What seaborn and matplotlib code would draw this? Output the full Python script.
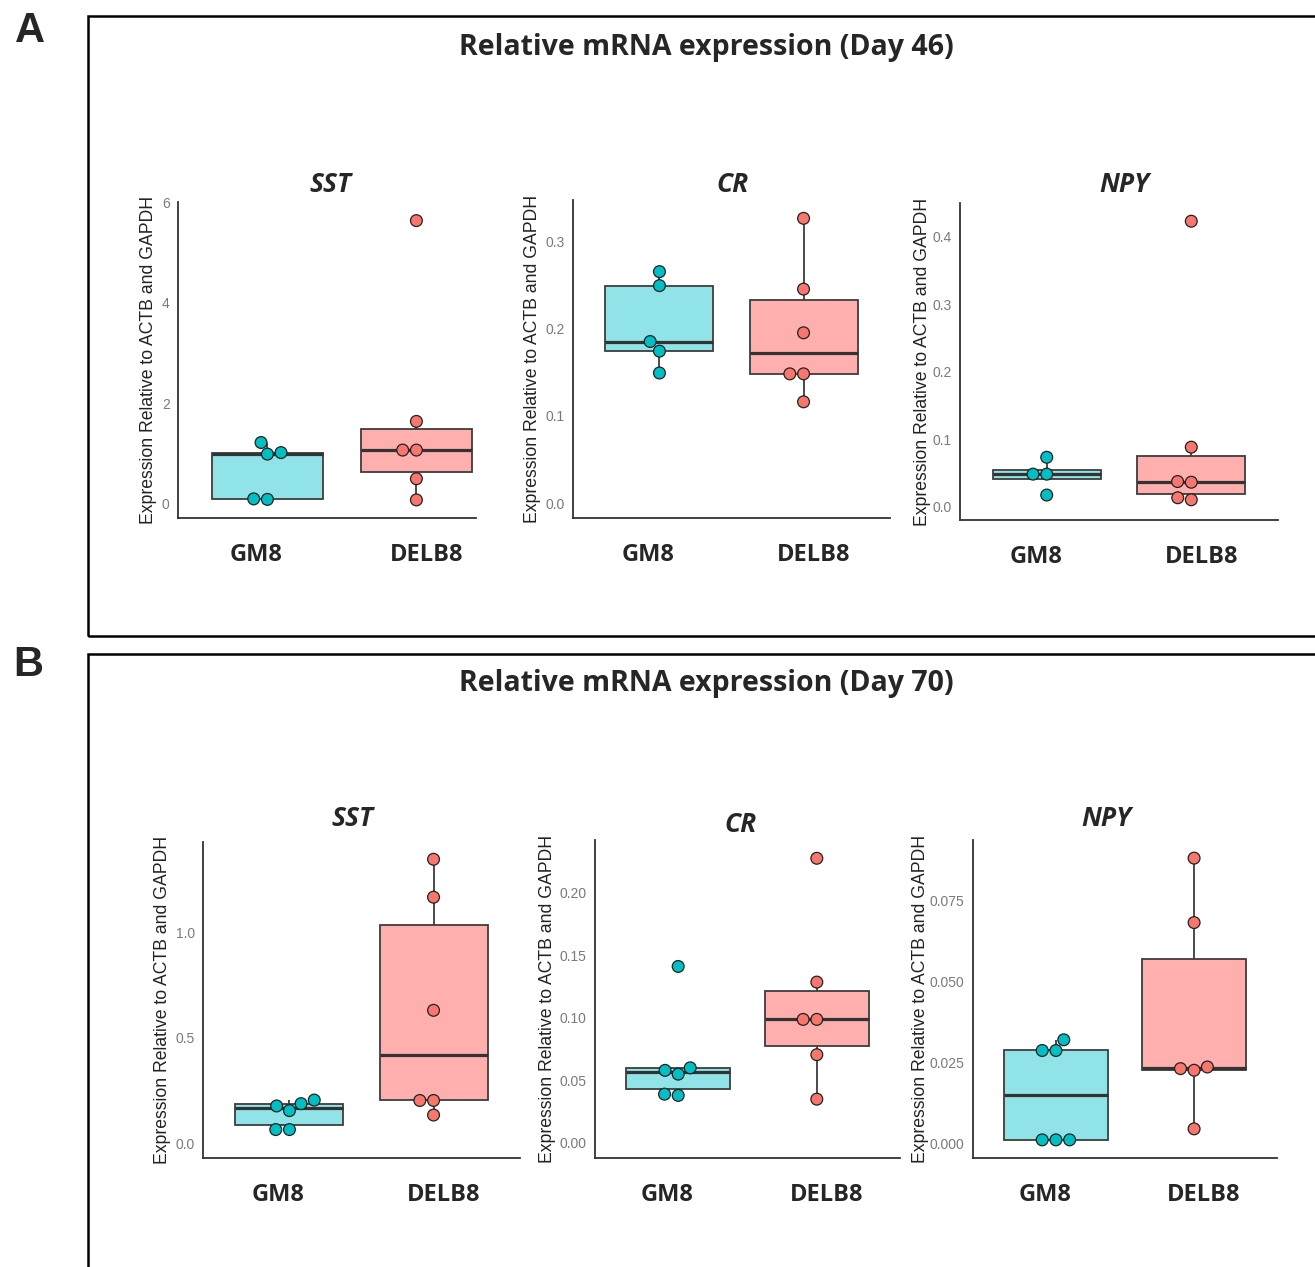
import matplotlib
matplotlib.use("Agg")
import matplotlib.pyplot as plt
import matplotlib.transforms as mtransforms
import seaborn as sns
import numpy as np
import pandas as pd
from matplotlib.patches import Rectangle

# ---- data ----
groups = ["GM8", "DELB8"]
genes = ["SST", "CR", "NPY"]

# Day 46
d46_sst_gm8 = [0.09, 0.10, 0.99, 1.02, 1.22]
d46_sst_delb8 = [0.08, 0.50, 1.07, 1.07, 1.64, 5.63]
d46_cr_gm8 = [0.149, 0.174, 0.185, 0.249, 0.265]
d46_cr_delb8 = [0.116, 0.148, 0.148, 0.195, 0.245, 0.326]
d46_npy_gm8 = [0.017, 0.048, 0.048, 0.073]
d46_npy_delb8 = [0.010, 0.013, 0.036, 0.037, 0.088, 0.423]

# Day 70
d70_sst_gm8 = [0.065, 0.065, 0.155, 0.177, 0.188, 0.205]
d70_sst_delb8 = [0.134, 0.203, 0.203, 0.631, 1.168, 1.348]
d70_cr_gm8 = [0.038, 0.039, 0.055, 0.058, 0.060, 0.141]
d70_cr_delb8 = [0.035, 0.0705, 0.0987, 0.0987, 0.1285, 0.2274]
d70_npy_gm8 = [0.001, 0.001, 0.001, 0.0286, 0.0286, 0.0319]
d70_npy_delb8 = [0.0044, 0.0225, 0.023, 0.0235, 0.0681, 0.088]

# y ticks per panel
ticks_d46 = [[0, 2, 4, 6], [0.0, 0.1, 0.2, 0.3], [0.0, 0.1, 0.2, 0.3, 0.4]]
ticks_d70 = [[0.0, 0.5, 1.0], [0.00, 0.05, 0.10, 0.15, 0.20],
             [0.000, 0.025, 0.050, 0.075]]
decimals_d46 = [0, 1, 1]
decimals_d70 = [1, 2, 3]
ylims_d46 = [(-0.28, 6.0), (-0.017, 0.347), (-0.02, 0.45)]
ylims_d70 = [(-0.07, 1.43), (-0.012, 0.242), (-0.0046, 0.0936)]

titles = ["Relative mRNA expression (Day 46)", "Relative mRNA expression (Day 70)"]
ylabel = "Expression Relative to ACTB and GAPDH"

box_fill = {"GM8": "#90E3E6", "DELB8": "#FEAFAE"}
point_col = {"GM8": "#00BFC4", "DELB8": "#F8766D"}

W, H = 1315, 1267


def fx(x):
    return x / W


def fy(y):
    return 1 - y / H


# axes boxes in pixels: left, right, top, bottom, ylabel x, title x, title y, xmax
layout_a = [(178, 476, 202, 518, 148, 330, 185, 1.40),
            (573, 890, 200, 518, 532, 732, 185, 1.60),
            (960, 1278, 203, 520, 922, 1124, 185, 1.60)]
layout_b = [(203, 520, 842, 1158, 162, 352, 818, 1.60),
            (595, 900, 840, 1158, 547, 740, 825, 1.60),
            (973, 1277, 840, 1158, 920, 1106, 818, 1.60)]

sns.set_style("white")
fig = plt.figure(figsize=(W / 100, H / 100), dpi=100)
fig.patch.set_facecolor("white")


def draw_panel(gm8, delb8, gene, box, ticks, dec, ylim):
    left, right, top, bottom, lab_x, tit_x, tit_y, xmax = box
    ax = fig.add_axes([fx(left), fy(bottom), fx(right - left), (bottom - top) / H])
    df = pd.DataFrame({
        "group": ["GM8"] * len(gm8) + ["DELB8"] * len(delb8),
        "value": gm8 + delb8,
    })
    sns.boxplot(data=df, x="group", y="value", hue="group", order=groups,
                palette=box_fill, saturation=1, width=0.75, showfliers=False,
                showcaps=False, linecolor="#3d3d3d", linewidth=1.3,
                medianprops={"linewidth": 2.3, "color": "#333333"},
                legend=False, ax=ax)
    sns.swarmplot(data=df, x="group", y="value", hue="group", order=groups,
                  palette=point_col, size=8.5, edgecolor="#222222", linewidth=0.9,
                  legend=False, zorder=4, ax=ax)
    ax.set_xlim(-0.6, xmax)
    ax.set_ylim(*ylim)
    ax.set_yticks(ticks)
    ax.set_yticklabels([f"{t:.{dec}f}" for t in ticks], color="#7a7a7a",
                       fontsize=10, family="Liberation Sans")
    ax.set_xticks([0, 1])
    ax.set_xticklabels(groups, fontsize=17, fontweight="bold", family="Open Sans")
    ax.tick_params(axis="x", length=4, width=1, color="#333333", pad=14)
    ax.tick_params(axis="y", length=4, width=1, color="#333333", pad=2)
    # the group names sit a little wider apart than the ticks
    for lab, dx in zip(ax.get_xticklabels(), [-11, 10]):
        lab.set_transform(lab.get_transform() +
                          mtransforms.ScaledTranslation(dx / 100, 0, fig.dpi_scale_trans))
    for s in ["top", "right"]:
        ax.spines[s].set_visible(False)
    for s in ["left", "bottom"]:
        ax.spines[s].set_color("#333333")
        ax.spines[s].set_linewidth(1.3)
    ax.set_xlabel("")
    ax.set_ylabel(ylabel, fontsize=12.7, color="#222222", family="Liberation Sans")
    # label coords give the right edge of the rotated text, so add half its height
    ax.yaxis.set_label_coords((lab_x + 9 - left) / (right - left), 0.5)
    fig.text(fx(tit_x), fy(tit_y), gene, ha="center", va="center",
             fontsize=19, fontweight="bold", fontstyle="italic", family="Open Sans")
    return ax


panels_a = [(d46_sst_gm8, d46_sst_delb8), (d46_cr_gm8, d46_cr_delb8),
            (d46_npy_gm8, d46_npy_delb8)]
panels_b = [(d70_sst_gm8, d70_sst_delb8), (d70_cr_gm8, d70_cr_delb8),
            (d70_npy_gm8, d70_npy_delb8)]

for i, (g, d) in enumerate(panels_a):
    draw_panel(g, d, genes[i], layout_a[i], ticks_d46[i], decimals_d46[i], ylims_d46[i])
for i, (g, d) in enumerate(panels_b):
    draw_panel(g, d, genes[i], layout_b[i], ticks_d70[i], decimals_d70[i], ylims_d70[i])

# frames around the two panels
fig.add_artist(Rectangle((fx(88), fy(636)), fx(1240), (636 - 16) / H,
                         transform=fig.transFigure, fill=False,
                         edgecolor="black", linewidth=1.8, zorder=0))
fig.add_artist(Rectangle((fx(88), fy(1290)), fx(1240), (1290 - 654) / H,
                         transform=fig.transFigure, fill=False,
                         edgecolor="black", linewidth=1.8, zorder=0))

# panel titles and letters
fig.text(fx(706), fy(47), titles[0], ha="center", va="center",
         fontsize=20.5, fontweight="bold", family="Open Sans")
fig.text(fx(706), fy(684), titles[1], ha="center", va="center",
         fontsize=20.5, fontweight="bold", family="Open Sans")
fig.text(fx(30), fy(31), "A", ha="center", va="center",
         fontsize=30, fontweight="bold", family="Liberation Sans")
fig.text(fx(28), fy(665), "B", ha="center", va="center",
         fontsize=30, fontweight="bold", family="Liberation Sans")

fig.savefig("out.png", dpi=100)
